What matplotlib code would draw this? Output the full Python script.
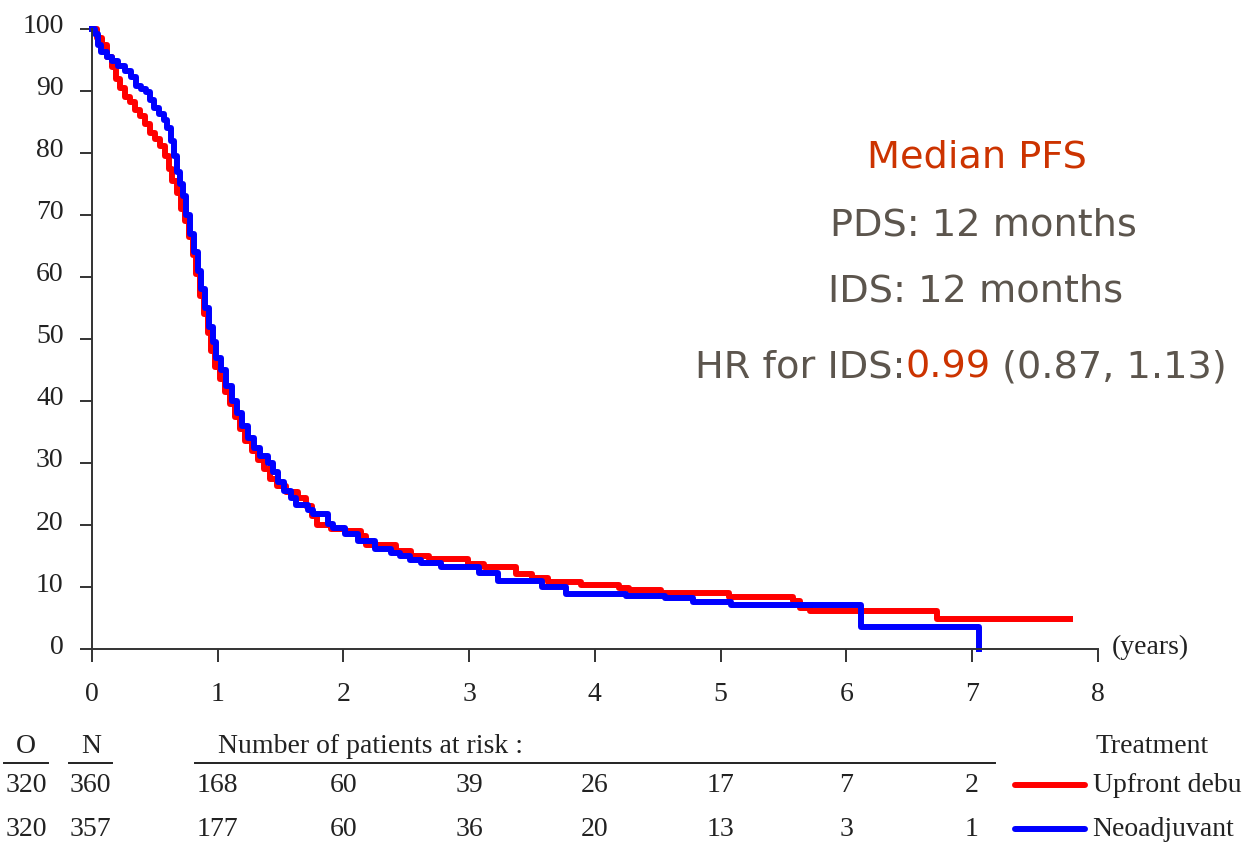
import matplotlib.pyplot as plt
from matplotlib import transforms

# Kaplan-Meier PFS curves (years, % free of progression)
t_upfront = [0, 0.04, 0.08, 0.12, 0.16, 0.19, 0.22, 0.26, 0.30, 0.34, 0.38, 0.42, 0.46, 0.50,
             0.54, 0.58, 0.61, 0.64, 0.68, 0.71, 0.74, 0.77, 0.80, 0.83, 0.86, 0.89, 0.92,
             0.95, 0.98, 1.02, 1.06, 1.10, 1.14, 1.18, 1.22, 1.27, 1.32, 1.37, 1.42, 1.47,
             1.54, 1.64, 1.70, 1.75, 1.79, 1.90, 2.01, 2.14, 2.18, 2.42, 2.54, 2.68, 2.99,
             3.12, 3.37, 3.50, 3.63, 3.89, 4.19, 4.27, 4.53, 5.07, 5.58, 5.63, 5.71, 6.72, 7.78]
s_upfront = [100, 98.5, 97.5, 95.5, 93.8, 92, 90.5, 89, 88.3, 87, 86, 84.6, 83.3, 82.3,
             81.2, 79.5, 77.5, 75.5, 73.5, 71, 69, 66.5, 63.5, 60.5, 57, 54, 51,
             48, 45.5, 43.5, 41.5, 39.5, 37.5, 35.5, 33.5, 32, 30.5, 29, 27.5, 26.3,
             25.3, 24.3, 23.1, 21.5, 20, 19.4, 19.1, 18.2, 16.7, 15.8, 15.0, 14.5, 13.7,
             13.3, 12.1, 11.4, 10.75, 10.3, 9.9, 9.5, 9.0, 8.4, 7.8, 6.6, 6.1, 4.85, 4.85]

t_neo = [0, 0.02, 0.05, 0.07, 0.12, 0.16, 0.21, 0.26, 0.31, 0.35, 0.39, 0.43, 0.46, 0.49,
         0.53, 0.57, 0.60, 0.63, 0.65, 0.68, 0.70, 0.72, 0.75, 0.78, 0.81, 0.84, 0.87,
         0.90, 0.93, 0.96, 0.99, 1.03, 1.07, 1.11, 1.15, 1.19, 1.24, 1.29, 1.34, 1.40,
         1.44, 1.48, 1.53, 1.58, 1.62, 1.72, 1.76, 1.88, 1.92, 2.01, 2.12, 2.25, 2.38,
         2.45, 2.53, 2.62, 2.78, 3.08, 3.23, 3.58, 3.77, 4.25, 4.56, 4.78, 5.08, 6.12, 7.06]
s_neo = [100, 99.2, 97.5, 96.3, 95.5, 94.9, 94.1, 93.2, 92.2, 90.8, 90.3, 89.8, 88.5, 87.3,
         86.3, 85.3, 84, 82, 79.5, 77, 75, 73, 70, 67, 64, 61, 58,
         55, 52, 49.5, 47, 45, 42.5, 40, 38, 36, 34, 32.5, 31.2, 30,
         28.5, 27, 25.5, 24.3, 23.3, 22.5, 21.7, 20.2, 19.5, 18.6, 17.5, 16.2, 15.5,
         15.0, 14.35, 13.9, 13.2, 12.2, 10.9, 9.95, 8.9, 8.6, 8.2, 7.6, 7.1, 3.5, 0]

# numbers at risk table
risk_years = [1, 2, 3, 4, 5, 6, 7]
risk_upfront = [168, 60, 39, 26, 17, 7, 2]
risk_neo = [177, 60, 36, 20, 13, 3, 1]
observed = [320, 320]
totals = [360, 357]
arm_labels = ['Upfront debu', 'Neoadjuvant']

serif = 'Liberation Serif'
gray_txt = '#5c554d'
orange_txt = '#cc3300'

W, H = 1258, 845
fig = plt.figure(figsize=(W / 100, H / 100), dpi=100)

x0, x8 = 92, 1097.6
ax = fig.add_axes([x0 / W, 1 - 650 / H, (x8 - x0) / W, 620 / H])
line_up, = ax.step(t_upfront, s_upfront, where='post', color='#ff0000', lw=4.3, clip_on=False)
line_neo, = ax.step(t_neo, s_neo, where='post', color='#0000ff', lw=4.3, clip_on=False)

ax.set_xlim(0, 8)
ax.set_ylim(0, 100)
ax.set_xticks(range(0, 9))
ax.set_yticks(range(0, 101, 10))
for side in ['top', 'right']:
    ax.spines[side].set_visible(False)
for side in ['left', 'bottom']:
    ax.spines[side].set_color('#333333')
    ax.spines[side].set_linewidth(1.4)
ax.tick_params(direction='out', length=9, width=1.4, color='#333333',
               labelsize=20, labelcolor='#222222')
ax.tick_params(axis='y', pad=11.5)
ax.tick_params(axis='x', pad=14)
for lbl in ax.get_xticklabels() + ax.get_yticklabels():
    lbl.set_fontfamily(serif)
# y labels sit a little above their ticks
shift = transforms.ScaledTranslation(0, 6 / 100, fig.dpi_scale_trans)
for tick in ax.yaxis.get_major_ticks():
    tick.label1.set_transform(tick.label1.get_transform() + shift)

fig.text(1112 / W, 1 - 647 / H, '(years)', fontsize=20, family=serif,
         color='#222222', va='center', ha='left')

# annotations
fs = 27.5
fig.text(977 / W, 1 - 158 / H, 'Median PFS', color=orange_txt, fontsize=fs,
         ha='center', va='center')
fig.text(983 / W, 1 - 226 / H, 'PDS: 12 months', color=gray_txt, fontsize=fs,
         ha='center', va='center')
fig.text(976 / W, 1 - 292 / H, 'IDS: 12 months', color=gray_txt, fontsize=fs,
         ha='center', va='center')
hr1 = fig.text(690 / W, 1 - 368 / H, 'HR for IDS:', color=gray_txt, fontsize=fs,
               ha='left', va='center')
hr2 = ax.annotate('0.99', xy=(1, 0), xycoords=hr1, va='bottom', ha='left',
                  color=orange_txt, fontsize=fs, annotation_clip=False)
hr3 = ax.annotate(' (0.87, 1.13)', xy=(1, 0), xycoords=hr2, va='bottom', ha='left',
                  color=gray_txt, fontsize=fs, annotation_clip=False)

# number at risk table, x in years, y in pixel rows from top
tab = fig.add_axes([x0 / W, 0, (x8 - x0) / W, 1 - 715 / H])
tab.set_xlim(0, 8)
tab.set_ylim(H, 715)
tab.axis('off')
tk = dict(fontsize=20, family=serif, color='#222222', va='center', clip_on=False)
y_head, y_line, rows_y = 747, 764, [786, 830]
tab.text(-0.525, y_head, 'O', ha='center', **tk)
tab.text(-0.01, y_head, 'N', ha='center', **tk)
tab.text(1.0, y_head, 'Number of patients at risk :', ha='left', **tk)
tab.text(7.98, y_head, 'Treatment', ha='left', **tk)
ul = dict(color='#222222', lw=1.4, clip_on=False)
tab.plot([-0.70, -0.35], [y_line, y_line], **ul)
tab.plot([-0.18, 0.16], [y_line, y_line], **ul)
tab.plot([0.82, 7.18], [y_line, y_line], **ul)
for yrow, o, n, risk, line, name in zip(rows_y, observed, totals,
                                          [risk_upfront, risk_neo],
                                          [line_up, line_neo], arm_labels):
    tab.text(-0.525, yrow, str(o), ha='center', **tk)
    tab.text(-0.01, yrow, str(n), ha='center', **tk)
    for yr, r in zip(risk_years, risk):
        tab.text(yr, yrow, str(r), ha='center', **tk)
    tab.plot([7.34, 7.90], [yrow, yrow], color=line.get_color(), lw=4.3,
             clip_on=False, solid_capstyle='round')
    tab.text(7.96, yrow, name, ha='left', **tk)

# centre the three-colour HR line on x = 961 px
fig.canvas.draw()
r = fig.canvas.get_renderer()
left = hr1.get_window_extent(r).x0
right = hr3.get_window_extent(r).x1
hr1.set_x((961 - (right - left) / 2) / W)

fig.savefig('out.png', dpi=100)
